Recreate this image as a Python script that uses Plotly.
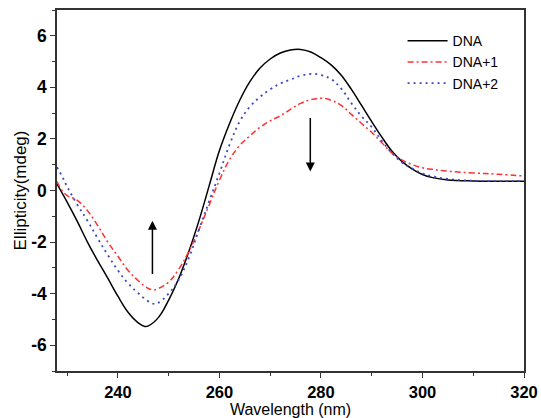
import plotly.graph_objects as go

# wavelength (nm) and ellipticity (mdeg)
WL_DNA = [228, 230, 232, 234, 236, 238, 240, 242, 244, 245.3, 246, 248, 250, 252, 254, 256, 258,
          260, 262, 264, 266, 268, 270, 272, 274, 276, 278, 280, 282, 284, 286, 288, 290, 292,
          294, 296, 298, 300, 302, 305, 310, 315, 320]
DNA = [0.25, -0.45, -1.2, -2.0, -2.72, -3.4, -4.1, -4.72, -5.13, -5.27, -5.25, -4.92, -4.25, -3.4,
       -2.35, -1.15, 0.2, 1.55, 2.6, 3.5, 4.22, 4.75, 5.1, 5.33, 5.45, 5.47, 5.37, 5.15, 4.87, 4.47,
       3.92, 3.3, 2.67, 2.07, 1.52, 1.12, 0.83, 0.62, 0.5, 0.41, 0.37, 0.36, 0.36]

WL_DNA1 = [228, 229, 230, 231, 232, 234, 236, 238, 240, 242, 244, 246, 247, 248, 250, 252, 254, 256,
           258, 260, 262, 264, 266, 268, 270, 272, 274, 276, 278, 280, 282, 284, 286, 288, 290, 292,
           294, 296, 298, 300, 302, 305, 310, 315, 320]
DNA1 = [0.35, 0.0, -0.2, -0.28, -0.38, -0.78, -1.35, -2.0, -2.55, -3.1, -3.5, -3.8, -3.85, -3.8, -3.55,
        -3.05, -2.35, -1.5, -0.55, 0.4, 1.2, 1.75, 2.12, 2.45, 2.7, 2.9, 3.15, 3.38, 3.52, 3.58, 3.5,
        3.3, 2.95, 2.6, 2.25, 1.85, 1.45, 1.18, 1.0, 0.88, 0.82, 0.75, 0.68, 0.63, 0.56]

WL_DNA2 = [228, 229, 230, 232, 234, 236, 238, 240, 242, 244, 246, 247.2, 248, 250, 252, 254, 256, 258,
           260, 262, 264, 266, 268, 270, 272, 274, 276, 278, 280, 282, 284, 286, 288, 290, 292, 294,
           296, 298, 300, 302, 305, 310, 320]
DNA2 = [0.9, 0.55, 0.15, -0.55, -1.17, -1.85, -2.5, -3.1, -3.6, -3.98, -4.3, -4.4, -4.35, -4.0, -3.45,
        -2.6, -1.5, -0.4, 0.67, 1.78, 2.68, 3.25, 3.63, 3.92, 4.15, 4.3, 4.45, 4.52, 4.48, 4.32, 3.95,
        3.38, 2.88, 2.46, 1.92, 1.45, 1.08, 0.85, 0.66, 0.55, 0.45, 0.38, 0.37]

Y_TICKS = [-6, -4, -2, 0, 2, 4, 6]
Y_TICK_LABELS = ["-6", "-4", "-2", "0", "2", "4", "6"]

# arrows: (x, tail y, head y)
ARROW_UP = (246.8, -3.3, -1.17)
ARROW_DOWN = (277.9, 2.87, 0.74)

FONT = "Arial, Liberation Sans, sans-serif"

fig = go.Figure()
fig.add_trace(go.Scatter(x=WL_DNA, y=DNA, name="DNA", mode="lines",
                         line=dict(color="black", width=1.5, shape="spline", smoothing=1.1)))
fig.add_trace(go.Scatter(x=WL_DNA1, y=DNA1, name="DNA+1", mode="lines",
                         line=dict(color="#ff3030", width=1.5, dash="6px,3px,2px,3px",
                                   shape="spline", smoothing=1.1)))
fig.add_trace(go.Scatter(x=WL_DNA2, y=DNA2, name="DNA+2", mode="lines",
                         line=dict(color="#3c46c8", width=1.8, dash="2px,4px",
                                   shape="spline", smoothing=1.1)))

for ax_x, tail, head in [ARROW_UP, ARROW_DOWN]:
    fig.add_annotation(x=ax_x, y=head, ax=ax_x, ay=tail, xref="x", yref="y",
                       axref="x", ayref="y", showarrow=True, arrowhead=2,
                       arrowsize=1.2, arrowwidth=1.5, arrowcolor="black", text="")

fig.update_layout(
    width=541, height=418,
    margin=dict(l=57, r=17, t=10, b=47),
    paper_bgcolor="white", plot_bgcolor="white",
    font=dict(family=FONT, color="black"),
    showlegend=True,
    legend=dict(x=0.74, y=0.958, xanchor="left", yanchor="top",
                bgcolor="rgba(0,0,0,0)", font=dict(size=14, family=FONT),
                tracegroupgap=0, itemwidth=40),
    xaxis=dict(
        range=[228, 320], dtick=20, tick0=240, automargin=False,
        showline=True, linecolor="#333", linewidth=1.5, mirror=True,
        ticks="outside", ticklen=5, tickwidth=1, tickcolor="#333",
        minor=dict(dtick=10, tick0=230, ticks="outside", ticklen=3, tickcolor="#333"),
        showgrid=False, zeroline=False,
        tickfont=dict(size=16.5, family=FONT, weight="bold"),
        title=dict(text="Wavelength (nm)", font=dict(size=16, family=FONT), standoff=3),
    ),
    yaxis=dict(
        range=[-7, 7], tickvals=Y_TICKS, ticktext=Y_TICK_LABELS, automargin=False,
        showline=True, linecolor="#333", linewidth=1.5, mirror=True,
        ticks="outside", ticklen=5, tickwidth=1, tickcolor="#333",
        minor=dict(dtick=1, tick0=-7, ticks="outside", ticklen=3, tickcolor="#333"),
        showgrid=False, zeroline=False,
        tickfont=dict(size=17.5, family=FONT, weight="bold"),
        title=dict(text="Ellipticity(mdeg)", font=dict(size=17, family=FONT), standoff=0),
    ),
)

# drop the default 8px body margin so the figure fills the window exactly
fig.write_html("out.html", config={"displayModeBar": False},
               post_script="document.body.style.margin='0';document.body.style.overflow='hidden';")
